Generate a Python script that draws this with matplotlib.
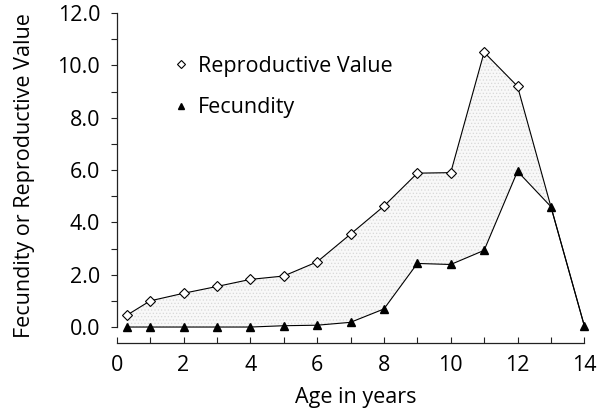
import matplotlib
matplotlib.use('Agg')
import matplotlib.pyplot as plt
from matplotlib.ticker import MultipleLocator, FormatStrFormatter

age = [0.3, 1, 2, 3, 4, 5, 6, 7, 8, 9, 10, 11, 12, 13, 14]
repro_value = [0.45, 1.0, 1.29, 1.55, 1.82, 1.95, 2.49, 3.55, 4.62, 5.88,
               5.9, 10.5, 9.2, 4.6, 0.05]
fecundity = [0.0, 0.0, 0.0, 0.0, 0.0, 0.05, 0.07, 0.18, 0.69, 2.43,
             2.39, 2.93, 5.95, 4.6, 0.05]

FONT = ['Open Sans', 'DejaVu Sans']
plt.rcParams['font.family'] = FONT
plt.rcParams['hatch.linewidth'] = 0.5
FS = 15.5

fig = plt.figure(figsize=(6.08, 4.09), dpi=100)
ax = fig.add_axes([0.192, 0.162, 0.7855, 0.819])

ax.fill_between(age, fecundity, repro_value, facecolor='#f8f8f8',
                edgecolor='#d8d8d8', hatch='.....', linewidth=0, zorder=1)
ax.plot(age, repro_value, color='black', lw=0.8, marker='D', ms=5.5,
        mfc='white', mec='black', mew=0.8, markevery=list(range(13)),
        label='Reproductive Value', zorder=3)
ax.plot(age, fecundity, color='black', lw=0.8, marker='^', ms=6,
        mfc='black', mec='black', label='Fecundity', zorder=4)

ax.set_xlim(0, 14.3)
ax.set_ylim(-0.6, 12.2)
for s in ['top', 'right']:
    ax.spines[s].set_visible(False)
ax.spines['left'].set_bounds(0, 12)
ax.spines['bottom'].set_bounds(0, 14)
for s in ['left', 'bottom']:
    ax.spines[s].set_linewidth(0.9)
    ax.spines[s].set_color('#222222')

ax.yaxis.set_major_locator(MultipleLocator(2))
ax.yaxis.set_minor_locator(MultipleLocator(1))
ax.yaxis.set_major_formatter(FormatStrFormatter('%.1f'))
ax.set_xticks(range(0, 15, 2))
ax.set_xticks(range(0, 15), minor=True)
ax.tick_params(which='both', length=4, width=0.8, labelsize=FS,
               color='#222222')
ax.tick_params(axis='y', which='both', direction='out', pad=8)
ax.tick_params(axis='x', which='both', direction='in', pad=9)

ax.set_xlabel('Age in years', fontsize=FS, labelpad=8)
ax.set_ylabel('Fecundity or Reproductive Value', fontsize=FS, labelpad=16)

ax.legend(loc='upper left', bbox_to_anchor=(0.08, 0.915), frameon=False,
          fontsize=FS, handlelength=0.6, handletextpad=0.5,
          labelspacing=0.95, markerscale=0.75)
for h in ax.get_legend().get_lines():
    h.set_linestyle('none')

fig.savefig('out.png', dpi=100)
